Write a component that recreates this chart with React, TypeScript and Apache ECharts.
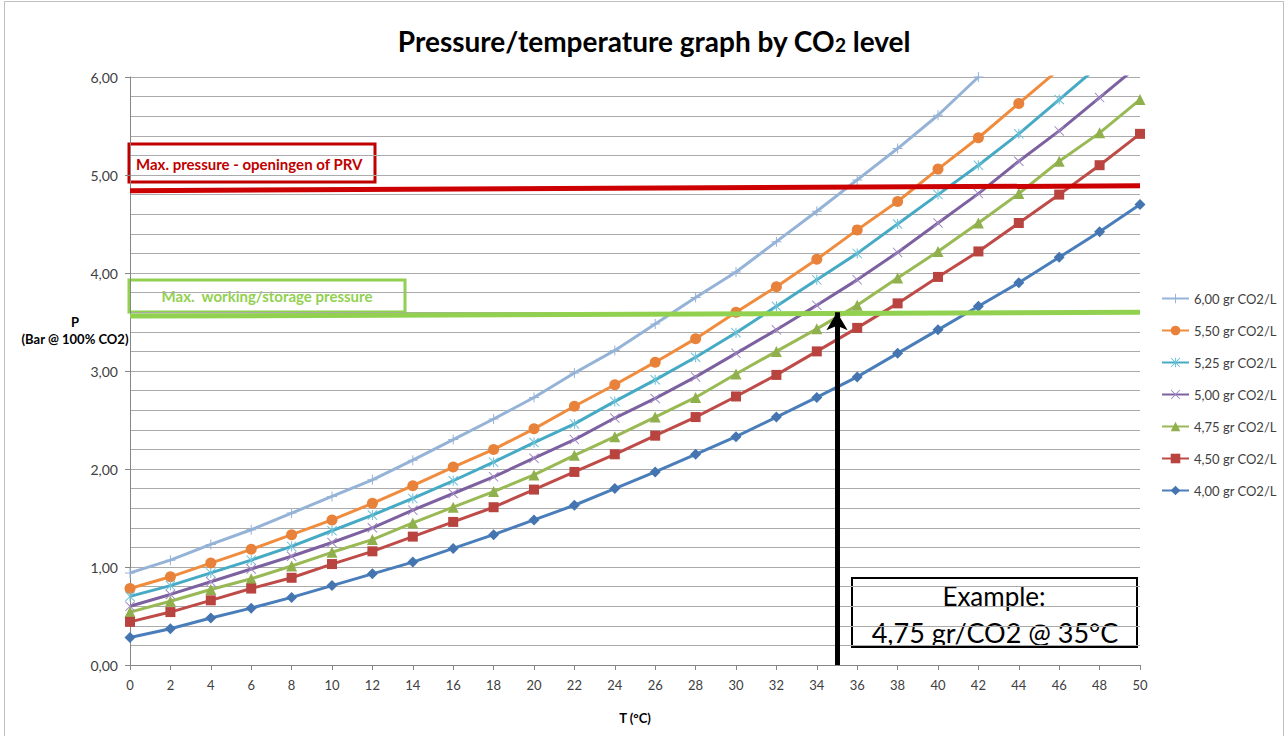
import React, { useEffect, useRef } from "react";
import * as echarts from "echarts";

// Temperatures (°C)
const temps = [0, 2, 4, 6, 8, 10, 12, 14, 16, 18, 20, 22, 24, 26, 28, 30, 32, 34, 36, 38, 40, 42, 44, 46, 48, 50];

// Pressure (bar) per CO2 level
const p600 = [0.94, 1.07, 1.23, 1.38, 1.55, 1.72, 1.89, 2.09, 2.3, 2.51, 2.73, 2.98, 3.21, 3.48, 3.75, 4.01, 4.32, 4.63, 4.95, 5.27, 5.61, 6.0];
const p550 = [0.78, 0.9, 1.04, 1.18, 1.33, 1.48, 1.65, 1.83, 2.02, 2.2, 2.41, 2.64, 2.86, 3.09, 3.33, 3.6, 3.86, 4.14, 4.44, 4.73, 5.06, 5.38, 5.73, 6.08];
const p525 = [0.7, 0.81, 0.94, 1.07, 1.21, 1.37, 1.53, 1.7, 1.88, 2.07, 2.27, 2.46, 2.69, 2.91, 3.14, 3.39, 3.66, 3.93, 4.2, 4.5, 4.8, 5.1, 5.42, 5.77, 6.12];
const p500 = [0.6, 0.72, 0.85, 0.98, 1.11, 1.25, 1.4, 1.58, 1.75, 1.92, 2.11, 2.3, 2.52, 2.72, 2.94, 3.18, 3.42, 3.67, 3.93, 4.21, 4.51, 4.81, 5.14, 5.45, 5.79, 6.13];
const p475 = [0.54, 0.65, 0.77, 0.88, 1.01, 1.15, 1.28, 1.45, 1.61, 1.77, 1.94, 2.14, 2.33, 2.53, 2.73, 2.97, 3.2, 3.43, 3.67, 3.95, 4.22, 4.51, 4.81, 5.14, 5.43, 5.77];
const p450 = [0.44, 0.54, 0.66, 0.78, 0.89, 1.03, 1.16, 1.31, 1.46, 1.61, 1.79, 1.97, 2.15, 2.34, 2.53, 2.74, 2.96, 3.2, 3.44, 3.69, 3.96, 4.22, 4.51, 4.8, 5.1, 5.42];
const p400 = [0.28, 0.37, 0.48, 0.58, 0.69, 0.81, 0.93, 1.05, 1.19, 1.33, 1.48, 1.63, 1.8, 1.97, 2.15, 2.33, 2.53, 2.73, 2.94, 3.18, 3.42, 3.66, 3.9, 4.16, 4.42, 4.7];

const seriesNames = ["6,00 gr CO2/L", "5,50 gr CO2/L", "5,25 gr CO2/L", "5,00 gr CO2/L", "4,75 gr CO2/L", "4,50 gr CO2/L", "4,00 gr CO2/L"];
const seriesValues = [p600, p550, p525, p500, p475, p450, p400];

// Reference lines / annotation values
const maxPrvLine = [[0, 4.84], [50, 4.89]];
const maxWorkLine = [[0, 3.56], [50, 3.6]];
const exampleTemp = 35;
const exampleTop = 3.6;

const titleText = "Pressure/temperature graph by CO";
const prvLabel = "Max. pressure - openingen of PRV";
const workLabel = "Max.  working/storage pressure";
const exampleLine1 = "Example:";
const exampleLine2 = "4,75 gr/CO2 @ 35°C";

const colors = ["#95B3D7", "#F08C3E", "#46AAC5", "#7D60A0", "#98B954", "#BE4B48", "#4A7EBB"];
const markerColors = ["#95B3D7", "#E8823A", "#6CC0D6", "#A08BC4", "#8FB04C", "#B8433F", "#4475B0"];

const PLUS = "path://M9,0H11V9H20V11H11V20H9V11H0V9H9Z";
const XMARK = "path://M1.4,0L10,8.6L18.6,0L20,1.4L11.4,10L20,18.6L18.6,20L10,11.4L1.4,20L0,18.6L8.6,10L0,1.4Z";
const STAR = "path://M1.4,0L10,8.6L18.6,0L20,1.4L11.4,10L20,18.6L18.6,20L10,11.4L1.4,20L0,18.6L8.6,10L0,1.4Z M9,0H11V20H9Z";
const symbols = [PLUS, "circle", STAR, XMARK, "triangle", "rect", "diamond"];
const symbolSizes = [10, 11, 10, 10, 11, 10, 11];

const FONT = "Lato, 'Open Sans', sans-serif";

export default function App() {
  const ref = useRef<HTMLDivElement>(null);

  useEffect(() => {
    if (!ref.current) return;
    const chart = echarts.init(ref.current, undefined, { renderer: "svg" });

    const lineSeries: any[] = seriesNames.map((name, i) => ({
      name,
      type: "line",
      data: seriesValues[i].map((v, j) => [temps[j], v]),
      symbol: symbols[i],
      symbolSize: symbolSizes[i],
      showAllSymbol: true,
      clip: true,
      lineStyle: { color: colors[i], width: 3 },
      itemStyle: { color: markerColors[i] },
      emphasis: { disabled: true },
      z: 3,
    }));

    lineSeries.push({
      name: "annotations",
      type: "line",
      data: [],
      silent: true,
      z: 4,
      markLine: {
        silent: true,
        animation: false,
        label: { show: false },
        emphasis: { disabled: true },
        data: [
          [
            { coord: maxPrvLine[0], symbol: "none", lineStyle: { color: "#CC0000", width: 5, type: "solid" } },
            { coord: maxPrvLine[1], symbol: "none" },
          ],
          [
            { coord: maxWorkLine[0], symbol: "none", lineStyle: { color: "#92D050", width: 5, type: "solid" } },
            { coord: maxWorkLine[1], symbol: "none" },
          ],
          [
            { coord: [exampleTemp, 0], symbol: "none", lineStyle: { color: "#000000", width: 5, type: "solid" } },
            { coord: [exampleTemp, exampleTop], symbol: "arrow", symbolSize: [16, 18] },
          ],
        ],
      },
    });

    chart.setOption({
      animation: false,
      backgroundColor: "#ffffff",
      title: {
        text: `{a|${titleText}}{s|2}{a| level}`,
        left: 649,
        textAlign: "center",
        top: 22,
        textStyle: {
          rich: {
            a: { fontFamily: FONT, fontSize: 28, fontWeight: "bold", color: "#000000" },
            s: { fontFamily: FONT, fontSize: 19, fontWeight: "bold", color: "#000000", padding: [7, 0, 0, 0] },
          },
        },
      },
      legend: {
        data: seriesNames,
        orient: "vertical",
        left: 1156,
        top: 287,
        itemWidth: 27,
        itemHeight: 12,
        itemGap: 19,
        textStyle: { fontFamily: FONT, fontSize: 13, color: "#404040", lineHeight: 13 },
        selectedMode: false,
      },
      grid: { left: 130, right: 148, top: 77, bottom: 71, containLabel: false },
      xAxis: {
        type: "value",
        min: 0,
        max: 50,
        interval: 2,
        name: "T (°C)",
        nameLocation: "middle",
        nameGap: 46,
        nameTextStyle: { fontFamily: FONT, fontSize: 13, fontWeight: "bold", color: "#000000" },
        axisLine: { show: true, onZero: false, lineStyle: { color: "#868686", width: 1 } },
        axisTick: { show: true, length: 5, lineStyle: { color: "#868686" } },
        axisLabel: { fontFamily: FONT, fontSize: 13, color: "#404040", margin: 13 },
        splitLine: { show: false },
      },
      yAxis: {
        type: "value",
        min: 0,
        max: 6,
        interval: 1,
        axisLine: { show: true, lineStyle: { color: "#868686", width: 1 } },
        axisTick: { show: true, length: 5, lineStyle: { color: "#868686" } },
        axisLabel: {
          fontFamily: FONT,
          fontSize: 14,
          color: "#404040",
          margin: 12,
          formatter: (v: number) => v.toFixed(2).replace(".", ","),
        },
        splitLine: { show: true, lineStyle: { color: "#ABABAB", width: 1 } },
        minorTick: { show: false, splitNumber: 5 },
        minorSplitLine: { show: true, lineStyle: { color: "#ABABAB", width: 1 } },
      },
      graphic: [
        {
          type: "rect",
          shape: { x: 4.5, y: 1.5, width: 1279, height: 745 },
          style: { fill: "none", stroke: "#BFBFBF", lineWidth: 1 },
          silent: true,
          z: 0,
        },
        {
          type: "text",
          x: 75,
          y: 322,
          style: { text: "P", fontFamily: FONT, fontSize: 13, fontWeight: "bold", fill: "#000000", align: "center", verticalAlign: "middle" },
        },
        {
          type: "text",
          x: 75,
          y: 339,
          style: { text: "(Bar @ 100% CO2)", fontFamily: FONT, fontSize: 13, fontWeight: "bold", fill: "#000000", align: "center", verticalAlign: "middle" },
        },
        {
          type: "group",
          z: 10,
          children: [
            { type: "rect", shape: { x: 129, y: 144, width: 246, height: 38 }, style: { fill: "#ffffff", stroke: "#C00000", lineWidth: 3 } },
            { type: "text", x: 136, y: 164, style: { text: prvLabel, fontFamily: FONT, fontSize: 15, fontWeight: "bold", fill: "#C00000", align: "left", verticalAlign: "middle" } },
          ],
        },
        {
          type: "group",
          z: 10,
          children: [
            { type: "rect", shape: { x: 129, y: 280, width: 276, height: 32 }, style: { fill: "#ffffff", stroke: "#92D050", lineWidth: 3 } },
            { type: "text", x: 267, y: 296, style: { text: workLabel, fontFamily: FONT, fontSize: 15, fontWeight: "bold", fill: "#92D050", align: "center", verticalAlign: "middle" } },
          ],
        },
        {
          type: "group",
          z: 10,
          children: [
            { type: "rect", shape: { x: 852, y: 578, width: 285, height: 69 }, style: { fill: "#ffffff", stroke: "#000000", lineWidth: 2 } },
            { type: "text", x: 994, y: 596, style: { text: exampleLine1, fontFamily: FONT, fontSize: 26, fill: "#000000", align: "center", verticalAlign: "middle" } },
            { type: "text", x: 995, y: 632, style: { text: exampleLine2, fontFamily: FONT, fontSize: 27, fill: "#000000", align: "center", verticalAlign: "middle" } },
          ],
        },
      ],
      series: lineSeries,
    });

    return () => chart.dispose();
  }, []);

  return (
    <div
      ref={ref}
      style={{ position: "absolute", left: 0, top: 0, width: 1288, height: 736 }}
    />
  );
}
